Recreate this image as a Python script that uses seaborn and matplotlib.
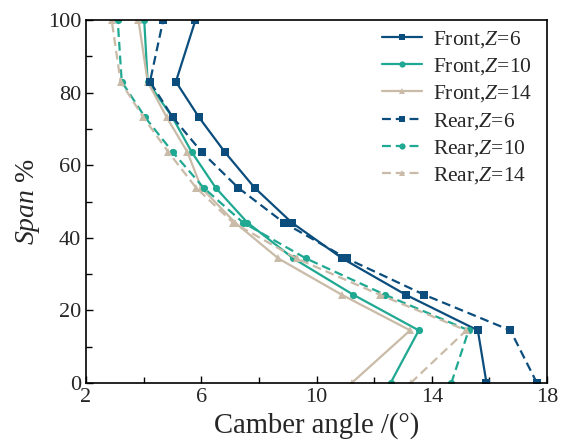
import numpy as np
import pandas as pd
import matplotlib
matplotlib.use("Agg")
import matplotlib.pyplot as plt
import seaborn as sns
from matplotlib.ticker import FixedLocator, MultipleLocator

span = [0, 14.5, 24.3, 34.3, 44.2, 53.8, 63.6, 73.2, 83.0, 100]

front_z6 = [15.9, 15.6, 13.1, 10.9, 9.14, 7.85, 6.82, 5.92, 5.12, 5.8]
front_z10 = [12.57, 13.55, 11.28, 9.2, 7.6, 6.5, 5.67, 5.0, 4.14, 4.02]
front_z14 = [11.22, 13.25, 10.88, 8.68, 7.17, 6.0, 5.52, 4.8, 4.14, 3.82]
rear_z6 = [17.65, 16.73, 13.74, 11.05, 8.86, 7.28, 6.02, 5.01, 4.22, 4.68]
rear_z10 = [14.68, 15.28, 12.38, 9.64, 7.45, 6.08, 5.01, 4.05, 3.24, 3.1]
rear_z14 = [13.27, 15.2, 12.2, 9.31, 7.1, 5.82, 4.86, 3.99, 3.2, 2.89]

x_major = [2, 6, 10, 14, 18]
x_minor = [4, 8, 12, 16]

labels = ["Front,$Z$=6", "Front,$Z$=10", "Front,$Z$=14",
          "Rear,$Z$=6", "Rear,$Z$=10", "Rear,$Z$=14"]
series = [front_z6, front_z10, front_z14, rear_z6, rear_z10, rear_z14]

rows = []
for lab, vals in zip(labels, series):
    for i, (x, y) in enumerate(zip(vals, span)):
        rows.append({"series": lab, "camber": x, "span": y, "order": i})
df = pd.DataFrame(rows)

c_blue = "#0b4d7c"
c_teal = "#1fa892"
c_beige = "#c9bba7"
palette = {labels[0]: c_blue, labels[1]: c_teal, labels[2]: c_beige,
           labels[3]: c_blue, labels[4]: c_teal, labels[5]: c_beige}
markers = {labels[0]: "s", labels[1]: "o", labels[2]: "^",
           labels[3]: "s", labels[4]: "o", labels[5]: "^"}
dashes = {labels[0]: "", labels[1]: "", labels[2]: "",
          labels[3]: (4, 2.2), labels[4]: (4, 2.2), labels[5]: (4, 2.2)}

sns.set_theme(style="white")
plt.rcParams["font.family"] = ["Liberation Serif", "DejaVu Serif"]
plt.rcParams["mathtext.fontset"] = "custom"
plt.rcParams["mathtext.rm"] = "Liberation Serif"
plt.rcParams["mathtext.it"] = "Liberation Serif:italic"

fig = plt.figure(figsize=(5.66, 4.44), dpi=100)
ax = fig.add_axes([86 / 566, 1 - 383 / 444, (547 - 86) / 566, (383 - 20) / 444])

sns.lineplot(data=df, x="camber", y="span", hue="series", style="series",
             palette=palette, markers=markers, dashes=dashes,
             estimator=None, sort=False, linewidth=1.6,
             markersize=5.2, markeredgewidth=0, ax=ax, hue_order=labels,
             style_order=labels)

ax.set_xlim(2, 18)
ax.set_ylim(0, 100)
ax.xaxis.set_major_locator(FixedLocator(x_major))
ax.xaxis.set_minor_locator(FixedLocator(x_minor))
ax.yaxis.set_major_locator(MultipleLocator(20))
ax.yaxis.set_minor_locator(MultipleLocator(10))
ax.tick_params(which="both", direction="in", top=False, right=False,
               bottom=True, left=True, labelsize=16, color="black", width=1.0)
ax.tick_params(which="major", length=5)
ax.tick_params(which="minor", length=4)
for s in ax.spines.values():
    s.set_color("black")
    s.set_linewidth(1.2)

ax.set_xlabel("Camber angle /(°)", fontsize=20.6, labelpad=4)
ax.set_ylabel("$Span$ %", fontsize=20, labelpad=4)

leg = ax.legend(loc="upper right", bbox_to_anchor=(1 - 6 / 461, 1),
                fontsize=15.5, frameon=False,
                handlelength=1.9, labelspacing=0.3, handletextpad=0.5,
                borderaxespad=0.1, borderpad=0.3)
for h in leg.legend_handles:
    h.set_markersize(4.5)

fig.savefig("out.png", dpi=100)
